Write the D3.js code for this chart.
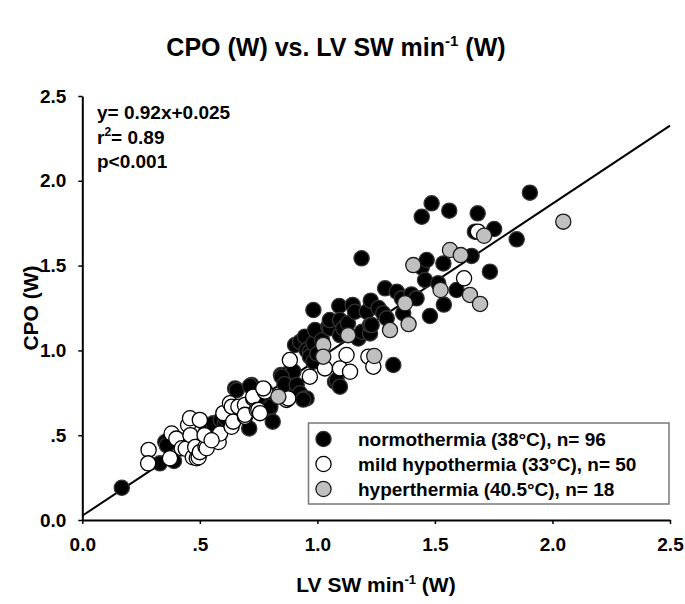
<!DOCTYPE html>
<html>
<head>
<meta charset="utf-8">
<script src="https://cdn.jsdelivr.net/npm/d3@7"></script>
<style>
  html, body { margin: 0; padding: 0; background: #fff; }
  svg { display: block; }
  text { font-family: "Liberation Sans", Arial, sans-serif; font-weight: bold; fill: #000; }
</style>
</head>
<body>
<svg id="chart" width="685" height="604"></svg>
<script>
// ---- data ----
const tickValues = [0, 0.5, 1.0, 1.5, 2.0, 2.5];
const tickLabels = ["0.0", ".5", "1.0", "1.5", "2.0", "2.5"];

const legendLabels = [
  "normothermia (38\u00B0C), n= 96",
  "mild hypothermia (33\u00B0C), n= 50",
  "hyperthermia (40.5\u00B0C), n= 18"
];

const regression = { slope: 0.92, intercept: 0.025 };
const statLines = ["y= 0.92x+0.025", "r2= 0.89", "p<0.001"];

const normothermia = [
  [0.168,0.19],[0.33,0.334],[0.39,0.348],[0.353,0.46],[0.36,0.44],
  [0.529,0.54],[0.557,0.57],[0.589,0.59],[0.607,0.57],[0.61,0.60],
  [0.63,0.62],[0.65,0.776],[0.657,0.766],[0.67,0.64],[0.71,0.54],
  [0.72,0.796],[0.713,0.79],[0.75,0.70],[0.777,0.766],[0.784,0.688],
  [0.798,0.659],[0.80,0.668],[0.81,0.58],[0.845,0.855],[0.87,0.86],
  [0.89,0.865],[0.898,0.875],[0.848,0.845],[0.86,0.80],[0.912,0.757],
  [0.912,0.796],[0.926,0.747],[0.947,0.717],[0.954,0.717],[0.94,0.71],
  [0.905,1.032],[0.926,1.05],[0.947,1.081],[0.954,1.002],[0.968,0.992],
  [0.968,0.963],[0.983,0.933],[0.983,1.042],[0.99,1.12],[0.983,1.238],
  [1.0,0.98],[1.02,1.06],[1.046,1.14],[1.053,1.13],[1.053,1.179],
  [1.075,0.815],[1.082,0.825],[1.096,0.786],[1.093,1.262],[1.096,1.179],
  [1.096,1.09],[1.11,1.13],[1.13,1.16],[1.15,1.268],[1.16,1.228],
  [1.174,1.07],[1.188,1.543],[1.19,1.11],[1.21,1.228],[1.224,1.10],
  [1.224,1.15],[1.231,1.15],[1.227,1.293],[1.26,1.25],[1.28,1.219],
  [1.288,1.366],[1.295,1.189],[1.323,0.914],[1.338,1.346],[1.359,1.307],
  [1.365,1.219],[1.40,1.33],[1.422,1.307],[1.444,1.49],[1.444,1.788],
  [1.458,1.415],[1.465,1.533],[1.479,1.203],[1.486,1.867],[1.514,1.396],
  [1.536,1.513],[1.538,1.27],[1.561,1.824],[1.592,1.356],[1.656,1.557],
  [1.67,1.70],[1.682,1.808],[1.734,1.464],[1.752,1.716],[1.848,1.655],
  [1.904,1.93]
];

const mildHypothermia = [
  [0.282,0.413],[0.28,0.334],[0.373,0.364],[0.38,0.51],[0.40,0.48],
  [0.423,0.423],[0.44,0.42],[0.45,0.56],[0.458,0.60],[0.46,0.50],
  [0.47,0.37],[0.48,0.43],[0.487,0.364],[0.495,0.37],[0.50,0.59],
  [0.50,0.40],[0.524,0.432],[0.529,0.423],[0.58,0.46],[0.586,0.51],
  [0.60,0.63],[0.635,0.55],[0.628,0.688],[0.636,0.668],[0.642,0.58],
  [0.664,0.668],[0.692,0.609],[0.692,0.678],[0.692,0.62],[0.727,0.717],
  [0.727,0.727],[0.742,0.649],[0.749,0.649],[0.756,0.63],[0.777,0.757],
  [0.77,0.776],[0.869,0.708],[0.876,0.717],[0.883,0.943],[0.968,0.845],
  [1.032,0.894],[1.096,0.894],[1.124,0.973],[1.139,0.874],[1.217,0.963],
  [1.238,0.904],[1.624,1.425],[1.683,1.70],[0.52,0.50],[0.55,0.47]
];

const hyperthermia = [
  [0.834,0.727],[1.025,1.032],[1.025,0.963],[1.131,1.09],[1.242,0.967],
  [1.309,1.12],[1.388,1.155],[1.373,1.278],[1.408,1.503],[1.524,1.356],
  [1.564,1.592],[1.61,1.562],[1.649,1.327],[1.692,1.274],[1.709,1.676],
  [2.046,1.759]
];

// ---- chart ----
const svg = d3.select("#chart");
const x = d3.scaleLinear().domain([0, 2.5]).range([82.3, 670]);
const y = d3.scaleLinear().domain([0, 2.5]).range([520, 96]);

// title
const title = svg.append("text")
  .attr("x", 336).attr("y", 56)
  .attr("text-anchor", "middle")
  .style("font-size", "25px");
title.append("tspan").text("CPO (W) vs. LV SW min");
title.append("tspan").attr("dy", -10).style("font-size", "15px").text("-1");
title.append("tspan").attr("dy", 10).text(" (W)");

// axes
const xAxis = d3.axisBottom(x).tickValues(tickValues)
  .tickFormat((d, i) => tickLabels[i]).tickSize(4).tickPadding(14).tickSizeOuter(0);
const yAxis = d3.axisLeft(y).tickValues(tickValues)
  .tickFormat((d, i) => tickLabels[i]).tickSize(4).tickPadding(12).tickSizeOuter(0);

const gx = svg.append("g").attr("transform", "translate(0,520)").call(xAxis);
const gy = svg.append("g").attr("transform", "translate(82.3,0)").call(yAxis);
[gx, gy].forEach(g => {
  g.select(".domain").attr("stroke", "#000").attr("stroke-width", 2);
  g.selectAll(".tick line").attr("stroke", "#000").attr("stroke-width", 1.5);
  g.selectAll(".tick text").style("font-size", "19px").style("font-family", "'Liberation Sans', Arial, sans-serif").style("font-weight", "bold").attr("fill", "#000");
});

// axis titles
const xt = svg.append("text").attr("x", 376).attr("y", 592)
  .attr("text-anchor", "middle").style("font-size", "21px");
xt.append("tspan").text("LV SW min");
xt.append("tspan").attr("dy", -8).style("font-size", "13px").text("-1");
xt.append("tspan").attr("dy", 8).text(" (W)");

svg.append("text")
  .attr("transform", "translate(38,308) rotate(-90)")
  .attr("text-anchor", "middle").style("font-size", "21px")
  .text("CPO (W)");

// regression line
svg.append("line")
  .attr("x1", x(0)).attr("y1", y(regression.intercept))
  .attr("x2", x(2.5)).attr("y2", y(regression.slope * 2.5 + regression.intercept))
  .attr("stroke", "#000").attr("stroke-width", 2);

// stats text
const st = svg.append("g").style("font-size", "19px");
st.append("text").attr("x", 97).attr("y", 119).text(statLines[0]);
const r2 = st.append("text").attr("x", 97).attr("y", 144);
r2.append("tspan").text("r");
r2.append("tspan").attr("dy", -8).style("font-size", "12px").text("2");
r2.append("tspan").attr("dy", 8).text("= 0.89");
st.append("text").attr("x", 97).attr("y", 168).text(statLines[2]);

// points
const R = 7.6;
const styles = [
  { data: normothermia, fill: "#000", stroke: "#333" },
  { data: mildHypothermia, fill: "#fff", stroke: "#000" },
  { data: hyperthermia, fill: "#c0c0c0", stroke: "#1a1a1a" }
];
styles.forEach(s => {
  svg.append("g").selectAll("circle").data(s.data).join("circle")
    .attr("cx", d => x(d[0])).attr("cy", d => y(d[1])).attr("r", R)
    .attr("fill", s.fill).attr("stroke", s.stroke).attr("stroke-width", 1.3);
});

// legend
const lg = svg.append("g");
lg.append("rect").attr("x", 308.5).attr("y", 423).attr("width", 360.5).attr("height", 81)
  .attr("fill", "#fff").attr("stroke", "#777").attr("stroke-width", 1.5);
const rows = [439, 464, 489];
styles.forEach((s, i) => {
  lg.append("circle").attr("cx", 323.5).attr("cy", rows[i]).attr("r", R)
    .attr("fill", s.fill).attr("stroke", s.stroke).attr("stroke-width", 1.3);
  lg.append("text").attr("x", 358).attr("y", rows[i]).attr("dy", "0.36em")
    .style("font-size", "19px").text(legendLabels[i]);
});
</script>
</body>
</html>
